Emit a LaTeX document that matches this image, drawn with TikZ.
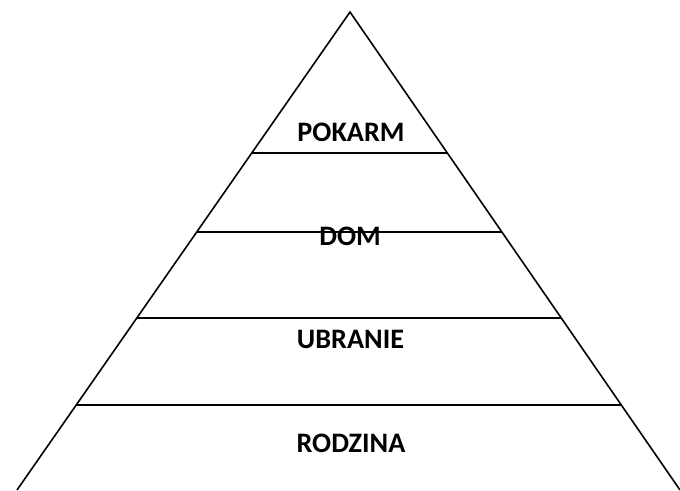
\documentclass[tikz,border=0pt]{standalone}
\usepackage{fontspec}
\setmainfont{Carlito}
\usetikzlibrary{calc}
\begin{document}
\begin{tikzpicture}[x=1pt,y=-1pt,
  edge/.style={line width=1.6pt,black},
  tier/.style={line width=1.6pt,black},
  lbl/.style={font=\fontsize{28.2}{30}\selectfont\bfseries,anchor=base,inner sep=0pt}]
\useasboundingbox (0,0) rectangle (680,490);
\coordinate (apex) at (350,12);
\coordinate (bl) at (17,490);
\coordinate (br) at (680,490);
\draw[edge] (bl) -- (apex) -- (br);
\foreach \y/\n in {153/a,232/b,318/c,405/d}{
  \coordinate (l\n) at ($(apex)!{(\y-12)/478}!(bl)$);
  \coordinate (r\n) at ($(apex)!{(\y-12)/478}!(br)$);
  \draw[tier] (l\n) -- (r\n);
}
\node[lbl] (pokarm) at (351,141) {POKARM};
\node[lbl] (dom) at (350,245) {DOM};
\node[lbl] (ubranie) at (350.5,348) {UBRANIE};
\node[lbl] (rodzina) at (351,452) {RODZINA};
\end{tikzpicture}
\end{document}
